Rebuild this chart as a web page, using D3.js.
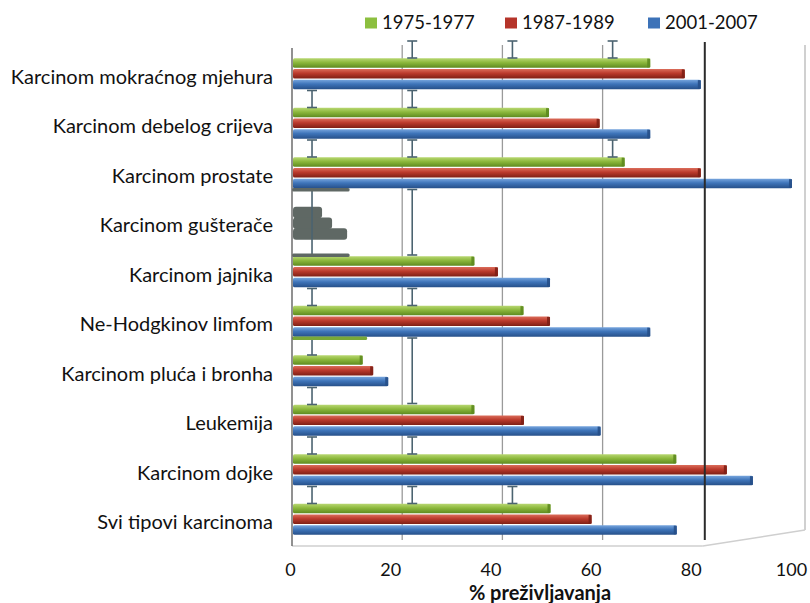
<!DOCTYPE html>
<html>
<head>
<meta charset="utf-8">
<script src="https://cdn.jsdelivr.net/npm/d3@7"></script>
<style>
  html, body { margin: 0; padding: 0; background: #fff; }
  svg { display: block; }
  text { font-family: Lato, "Open Sans", sans-serif; fill: #111; }
</style>
</head>
<body>
<svg id="chart" width="810" height="603"></svg>
<script>
// ---- data ----
const categories = [
  "Karcinom mokraćnog mjehura",
  "Karcinom debelog crijeva",
  "Karcinom prostate",
  "Karcinom gušterače",
  "Karcinom jajnika",
  "Ne-Hodgkinov limfom",
  "Karcinom pluća i bronha",
  "Leukemija",
  "Karcinom dojke",
  "Svi tipovi karcinoma"
];
const seriesNames = ["1975-1977", "1987-1989", "2001-2007"];
const v1975 = [71.5, 51.3, 66.4, 6, 36.4, 46.2, 14.1, 36.4, 76.7, 51.6];
const v1987 = [78.4, 61.4, 81.6, 8, 41.1, 51.5, 16.2, 46.3, 86.8, 59.8];
const v2001 = [81.6, 71.5, 99.8, 11, 51.5, 71.5, 19.2, 61.6, 92, 76.8];
const xTicks = [0, 20, 40, 60, 80, 100];
const xTitle = "% preživljavanja";
// stray error-bar marks seen in the picture: [gap index, value, gaps spanned, cap bar value, cap colour]
const marks = [
  [0, 22, 0], [0, 42, 0], [0, 62, 0],
  [1, 2, 0], [1, 22, 0],
  [2, 2, 0], [2, 22, 0], [2, 62, 0],
  [3, 2, 1, 11.5, "#5f6864"], [3, 22, 1],
  [5, 2, 0], [5, 22, 0],
  [6, 2, 0, 15, "#78a838"], [6, 22, 1],
  [7, 2, 0],
  [8, 2, 0], [8, 22, 0],
  [9, 2, 0], [9, 22, 0], [9, 42, 0]
];

const series = [
  { name: seriesNames[0], values: v1975, c: ["#b9d873", "#8cb83c", "#5d8a1f"], leg: "#8cbf3f" },
  { name: seriesNames[1], values: v1987, c: ["#dc6e5c", "#bb3a2c", "#7e1f15"], leg: "#b5342a" },
  { name: seriesNames[2], values: v2001, c: ["#78a6de", "#3e74b9", "#264f88"], leg: "#3c72b8" }
];

const svg = d3.select("#chart");
const W = 810, H = 603;
const m = { left: 292, right: 17, top: 49, bottom: 59 };

const x = d3.scaleLinear().domain([0, 100]).range([m.left, 793]);
const y = d3.scaleBand().domain(categories).range([m.top, H - m.bottom])
  .paddingInner(0.37).paddingOuter(0.185);
const ys = d3.scaleBand().domain(seriesNames).range([0, y.bandwidth()]).paddingInner(0.1);
const depth = 10;

// gradients
const defs = svg.append("defs");
series.forEach((s, i) => {
  const g = defs.append("linearGradient").attr("id", "g" + i)
    .attr("x1", 0).attr("y1", 0).attr("x2", 0).attr("y2", 1);
  g.append("stop").attr("offset", "0%").attr("stop-color", s.c[0]);
  g.append("stop").attr("offset", "45%").attr("stop-color", s.c[1]);
  g.append("stop").attr("offset", "100%").attr("stop-color", s.c[2]);
});

const plotTop = 43, plotBottom = 546;

// back-wall gridlines
svg.append("g").selectAll("line").data([20, 40, 60]).join("line")
  .attr("x1", d => x(d) + depth).attr("x2", d => x(d) + depth)
  .attr("y1", plotTop + 2).attr("y2", plotBottom - 6)
  .attr("stroke", "#9a9a9a").attr("stroke-width", 1.3);
// right frame
svg.append("line")
  .attr("x1", x(100) + 12).attr("x2", x(100) + 12)
  .attr("y1", plotTop + 2).attr("y2", plotBottom - 16)
  .attr("stroke", "#d0d0d0").attr("stroke-width", 2);
// floor
svg.append("line")
  .attr("x1", m.left).attr("x2", x(80) + depth)
  .attr("y1", plotBottom).attr("y2", plotBottom)
  .attr("stroke", "#cfcfcf").attr("stroke-width", 1.5);
svg.append("line")
  .attr("x1", x(80) + depth).attr("x2", x(100) + 12)
  .attr("y1", plotBottom).attr("y2", plotBottom - 16)
  .attr("stroke", "#cfcfcf").attr("stroke-width", 1.5);

// gap helper
const gapY = k => y(categories[0]) - (y.step() - y.bandwidth()) / 2 + k * y.step();

// bars
const groups = svg.append("g").selectAll("g").data(categories).join("g")
  .attr("transform", d => `translate(0,${y(d)})`);

series.forEach((s, i) => {
  groups.each(function (cat, ci) {
    const grp = d3.select(this);
    const v = s.values[ci];
    const grey = ci === 3;
    const by = ys(s.name), bh = ys.bandwidth();
    grp.append("rect")
      .attr("x", x(0) + 1).attr("y", by)
      .attr("width", x(v) - x(0) - 1).attr("height", grey ? bh + 2 : bh)
      .attr("rx", grey ? 3 : 1.5)
      .attr("fill", grey ? "#5f6864" : `url(#g${i})`);
    if (!grey) {
      grp.append("rect")
        .attr("x", x(v) - 3).attr("y", by + 0.5)
        .attr("width", 3).attr("height", bh - 1)
        .attr("fill", s.c[2]).attr("opacity", 0.9);
    }
  });
});

// stray I-beam marks
const mk = svg.append("g").attr("stroke", "#4b6370").attr("stroke-width", 1.6).attr("fill", "none");
marks.forEach(([k, v, span, capV, capC]) => {
  const cx = x(v) + depth;
  const y0 = gapY(k) - 8;
  const y1 = span ? gapY(k + span) + 8 : gapY(k) + 9;
  if (capV) {
    [y0, y1].forEach((yy, j) => {
      if (j === 1 && !span) return;
      svg.append("rect").attr("x", x(0)).attr("y", yy - 1.5)
        .attr("width", x(capV) - x(0)).attr("height", 3.5).attr("rx", 1.5).attr("fill", capC);
    });
  }
  mk.append("line").attr("x1", cx).attr("x2", cx).attr("y1", y0).attr("y2", y1);
  mk.append("line").attr("x1", cx - 5).attr("x2", cx + 5).attr("y1", y0).attr("y2", y0);
  mk.append("line").attr("x1", cx - 5).attr("x2", cx + 5).attr("y1", y1).attr("y2", y1);
});

// 80 line (front)
svg.append("line")
  .attr("x1", x(80) + depth + 2).attr("x2", x(80) + depth + 2)
  .attr("y1", plotTop - 1).attr("y2", plotBottom - 6)
  .attr("stroke", "#2b2b2b").attr("stroke-width", 2);

// left axis line
svg.append("line")
  .attr("x1", m.left).attr("x2", m.left)
  .attr("y1", plotTop + 5).attr("y2", plotBottom)
  .attr("stroke", "#6d6d6d").attr("stroke-width", 1.5);

// y labels
svg.append("g").selectAll("text").data(categories).join("text")
  .attr("x", 273).attr("y", d => y(d) + y.bandwidth() / 2 + 5)
  .attr("text-anchor", "end").attr("dominant-baseline", "middle")
  .attr("font-size", 20).text(d => d);

// x axis
const xAxis = d3.axisBottom(x).tickValues(xTicks).tickSize(0).tickPadding(17);
const gx = svg.append("g").attr("transform", `translate(-2,${plotBottom})`).call(xAxis);
gx.select(".domain").remove();
gx.selectAll("text").attr("font-size", 18).attr("font-family", "Lato, sans-serif").attr("fill", "#111");

svg.append("text").attr("x", 540).attr("y", 600)
  .attr("text-anchor", "middle").attr("font-size", 20).attr("font-weight", "bold")
  .text(xTitle);

// legend
const legX = [365, 505, 648];
const leg = svg.append("g").selectAll("g").data(series).join("g")
  .attr("transform", (d, i) => `translate(${legX[i]},23.5)`);
leg.append("rect").attr("x", 0).attr("y", -6).attr("width", 12).attr("height", 11).attr("fill", d => d.leg);
leg.append("text").attr("x", 17).attr("y", 1).attr("dominant-baseline", "middle")
  .attr("font-size", 18.5).text(d => d.name);
</script>
</body>
</html>
